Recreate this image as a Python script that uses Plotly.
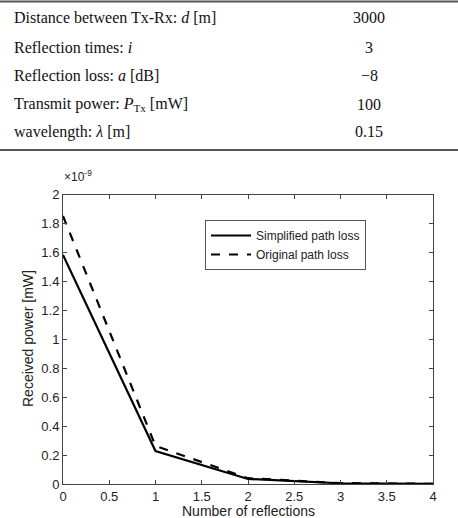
import plotly.graph_objects as go

# table of parameters
param_names = [
    "Distance between Tx-Rx: <i>d</i> [m]",
    "Reflection times: <i>i</i>",
    "Reflection loss: <i>a</i> [dB]",
    "Transmit power: <i>P</i><sub>Tx</sub> [mW]",
    "wavelength: <i>λ</i> [m]",
]
param_values = ["3000", "3", "−8", "100", "0.15"]

# curves (values in units of 1e-9 mW)
reflections = [0, 1, 2, 3, 4]
simplified = [1.584, 0.228, 0.035, 0.005, 0.001]
original = [1.853, 0.263, 0.040, 0.006, 0.001]

W, H = 458, 518


def px_x(x):
    return x / W


def px_y(y):
    return 1 - y / H


fig = go.Figure()
fig.add_trace(go.Scatter(x=reflections, y=simplified, mode="lines",
                         name="Simplified path loss",
                         line=dict(color="black", width=2.2)))
fig.add_trace(go.Scatter(x=reflections, y=original, mode="lines",
                         name="Original path loss",
                         line=dict(color="black", width=2.2, dash="dash")))

axis_font = dict(family="Liberation Sans, Arial", size=13, color="#222")
title_font = dict(family="Liberation Sans, Arial", size=14, color="#222")
fig.update_xaxes(domain=[px_x(63), px_x(433)], range=[0, 4], dtick=0.5,
                 showgrid=False, zeroline=False,
                 showline=True, linecolor="#444", linewidth=1, mirror="ticks",
                 ticks="inside", ticklen=4, tickcolor="#444",
                 tickfont=axis_font, automargin=False)
fig.update_yaxes(domain=[px_y(484), px_y(194.7)], range=[0, 2], dtick=0.2,
                 showgrid=False, zeroline=False,
                 showline=True, linecolor="#444", linewidth=1, mirror="ticks",
                 ticks="inside", ticklen=4, tickcolor="#444",
                 tickfont=axis_font, automargin=False)

annotations = [
    dict(x=px_x(62), y=px_y(186), xref="paper", yref="paper",
         text="×10<sup>-9</sup>", showarrow=False, xanchor="left",
         yanchor="bottom", font=dict(family="Liberation Sans, Arial", size=12, color="#222")),
    # axis titles placed by hand since the margins are zero
    dict(x=px_x(248), y=px_y(511), xref="paper", yref="paper",
         text="Number of reflections", showarrow=False, xanchor="center",
         yanchor="middle", font=title_font),
    dict(x=px_x(28), y=px_y(339), xref="paper", yref="paper",
         text="Received power [mW]", showarrow=False, textangle=-90,
         xanchor="center", yanchor="middle", font=title_font),
]

row_y = [17, 47, 75, 104, 132]
for name, val, y in zip(param_names, param_values, row_y):
    annotations.append(dict(x=px_x(12), y=px_y(y), xref="paper", yref="paper",
                            text=name, showarrow=False, xanchor="left", yanchor="middle",
                            font=dict(family="Liberation Serif, Times New Roman", size=16, color="#111")))
    annotations.append(dict(x=px_x(369), y=px_y(y), xref="paper", yref="paper",
                            text=val, showarrow=False, xanchor="center", yanchor="middle",
                            font=dict(family="Liberation Serif, Times New Roman", size=16, color="#111")))

shapes = [
    dict(type="line", xref="paper", yref="paper", x0=0, x1=1, y0=px_y(1.5), y1=px_y(1.5),
         line=dict(color="#555", width=2)),
    dict(type="line", xref="paper", yref="paper", x0=0, x1=1, y0=px_y(150), y1=px_y(150),
         line=dict(color="#555", width=2)),
]

fig.update_layout(
    width=W, height=H,
    margin=dict(l=0, r=0, t=0, b=0),
    paper_bgcolor="white", plot_bgcolor="white",
    showlegend=True,
    legend=dict(x=px_x(205), y=px_y(220), xanchor="left", yanchor="top",
                bordercolor="#555", borderwidth=1, bgcolor="white",
                font=dict(family="Liberation Sans, Arial", size=12, color="#222"),
                tracegroupgap=0, itemwidth=40),
    annotations=annotations,
    shapes=shapes,
)

# drop the default page margin so the figure sits at the window's top-left
fig.write_html("out.html", config={"displayModeBar": False},
               post_script="document.body.style.margin='0px';")
